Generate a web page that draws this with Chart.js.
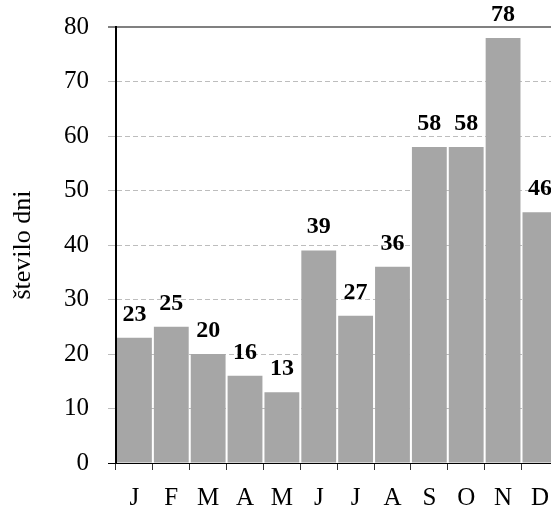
<!DOCTYPE html>
<html>
<head>
<meta charset="utf-8">
<script src="https://cdn.jsdelivr.net/npm/chart.js@4.4.1/dist/chart.umd.min.js"></script>
<style>
  html, body { margin: 0; padding: 0; background: #fff; overflow: hidden; }
  #wrap { width: 565px; height: 509px; position: relative; }
</style>
</head>
<body>
<div id="wrap"><canvas id="c"></canvas></div>
<script>
// Months (Slovene initials) and number of days per month
const months = ['J', 'F', 'M', 'A', 'M', 'J', 'J', 'A', 'S', 'O', 'N', 'D'];
const days = [23, 25, 20, 16, 13, 39, 27, 36, 58, 58, 78, 46];
const yTicks = [0, 10, 20, 30, 40, 50, 60, 70, 80];

const serif = "'Liberation Serif', 'Times New Roman', serif";

// Bold value labels above each bar
const valueLabels = {
  id: 'valueLabels',
  afterDatasetsDraw(chart) {
    const ctx = chart.ctx;
    const meta = chart.getDatasetMeta(0);
    ctx.save();
    ctx.font = 'bold 24px ' + serif;
    ctx.fillStyle = '#000';
    ctx.textAlign = 'center';
    ctx.textBaseline = 'alphabetic';
    meta.data.forEach((bar, i) => {
      ctx.fillText(String(days[i]), bar.x, bar.y - 17);
    });
    ctx.restore();
  }
};

new Chart(document.getElementById('c'), {
  type: 'bar',
  data: {
    labels: months,
    datasets: [{
      data: days,
      backgroundColor: '#a6a6a6',
      borderWidth: 0,
      barPercentage: 0.945,
      categoryPercentage: 1.0
    }]
  },
  options: {
    responsive: true,
    maintainAspectRatio: false,
    animation: false,
    layout: { padding: { top: 27, right: 1, left: 0, bottom: 0 } },
    plugins: { legend: { display: false }, tooltip: { enabled: false } },
    scales: {
      x: {
        afterFit(scale) { scale.height = 46; },
        grid: {
          offset: true,
          drawOnChartArea: false,
          drawTicks: true,
          tickLength: 7,
          color: '#333',
          lineWidth: 1
        },
        border: { display: true, color: '#000', width: 1 },
        ticks: {
          color: '#000',
          font: { family: serif, size: 25, lineHeight: 1.0 },
          padding: 16,
          maxRotation: 0,
          autoSkip: false
        }
      },
      y: {
        min: 0,
        max: 80,
        afterFit(scale) {
          scale.width = 116;
          scale.paddingTop = 0;
          scale.paddingBottom = 0;
        },
        afterBuildTicks(scale) {
          scale.ticks = yTicks.map(v => ({ value: v }));
        },
        grid: {
          drawTicks: true,
          tickLength: 8,
          color: ctx => (ctx.tick && ctx.tick.value === 80) ? '#808080' : (ctx.tick && ctx.tick.value === 0 ? '#000' : '#bdbdbd'),
          lineWidth: ctx => (ctx.tick && ctx.tick.value === 80) ? 2 : 1
        },
        border: {
          display: true,
          color: '#000',
          width: 2,
          dash: ctx => (ctx.tick && (ctx.tick.value === 80 || ctx.tick.value === 0)) ? [] : [5, 3]
        },
        ticks: {
          color: '#000',
          font: { family: serif, size: 25 },
          padding: 19
        },
        title: {
          display: true,
          text: 'število dni',
          color: '#000',
          font: { family: serif, size: 26, lineHeight: 1.2 },
          padding: { top: 8, bottom: 20 }
        }
      }
    }
  },
  plugins: [valueLabels]
});
</script>
</body>
</html>
